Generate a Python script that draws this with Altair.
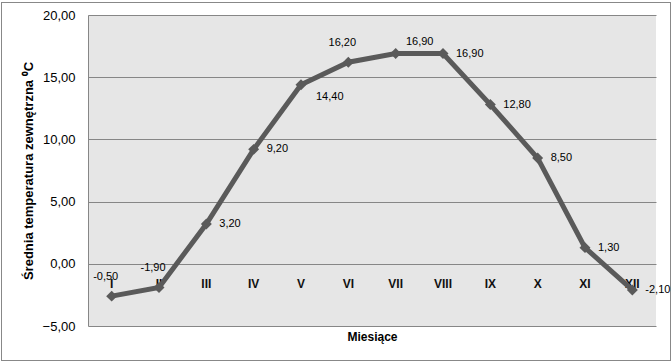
import altair as alt
import pandas as pd

months = ["I", "II", "III", "IV", "V", "VI", "VII", "VIII", "IX", "X", "XI", "XII"]
temps = [-2.6, -1.9, 3.2, 9.2, 14.4, 16.2, 16.9, 16.9, 12.8, 8.5, 1.3, -2.1]
label_texts = ["-0,50", "-1,90", "3,20", "9,20", "14,40", "16,20", "16,90", "16,90",
               "12,80", "8,50", "1,30", "-2,10"]
label_pos = ["above", "above", "right", "right", "right_below", "above", "above_right",
             "right", "right", "right", "right", "right"]
y_ticks = [-5, 0, 5, 10, 15, 20]

df = pd.DataFrame({"m": months, "t": temps, "lab": label_texts, "pos": label_pos})

FONT = "Liberation Sans"
LINE = "#5a5a5a"
GRID = "#868686"

x_enc = alt.X("m:N", sort=months,
              scale=alt.Scale(paddingInner=0, paddingOuter=0),
              axis=alt.Axis(title="Miesiące", labels=False, ticks=False, domain=False,
                            titleFont=FONT, titleFontSize=12, titleFontWeight="bold",
                            titleColor="#000000", titlePadding=5))
y_enc = alt.Y("t:Q", scale=alt.Scale(domain=[-5, 20], nice=False),
              axis=alt.Axis(values=y_ticks, title="Średnia temperatura  zewnętrzna ⁰C",
                            labelExpr="replace(format(datum.value, '.2f'), '.', ',')",
                            labelFont=FONT, labelFontSize=13, labelColor="#000000",
                            labelPadding=13, ticks=False, domain=True, domainColor=GRID,
                            grid=True, gridColor=GRID, gridWidth=1,
                            titleFont=FONT, titleFontSize=13, titleFontWeight="bold",
                            titleColor="#000000", titlePadding=7))

base = alt.Chart(df)

border = base.mark_rect(filled=False, stroke="#888888", strokeWidth=1, clip=False).encode(
    x=alt.value(-86.5), x2=alt.value(582.5), y=alt.value(-12.5), y2=alt.value(345.5))

numerals = base.mark_text(font=FONT, fontSize=12, fontWeight="bold", color="#111111",
                          baseline="middle", dy=20).encode(
    x=x_enc, y=alt.datum(0), text="m:N")

line = base.mark_line(color=LINE, strokeWidth=5).encode(x=x_enc, y=y_enc)
points = base.mark_point(shape="diamond", filled=True, color=LINE, size=120, opacity=1).encode(
    x=x_enc, y=y_enc)

def lab_layer(pos, dx, dy, align):
    return base.transform_filter(alt.datum.pos == pos).mark_text(
        font=FONT, fontSize=11, color="#000000", align=align, baseline="middle",
        dx=dx, dy=dy).encode(x=x_enc, y=y_enc, text="lab:N")

labels = [
    lab_layer("above", -6, -19, "center"),
    lab_layer("above_right", 24, -12, "center"),
    lab_layer("right", 13, 0, "left"),
    lab_layer("right_below", 15, 12, "left"),
]

chart = alt.layer(border, numerals, line, points, *labels).properties(
    width=568, height=311,
    autosize=alt.AutoSizeParams(type="none"),
    padding={"left": 88, "top": 15, "right": 16, "bottom": 37},
    background="#ffffff",
).configure_view(fill="#e6e6e6", stroke=None)

chart.save("out.html", embed_options={"renderer": "svg", "actions": False})
